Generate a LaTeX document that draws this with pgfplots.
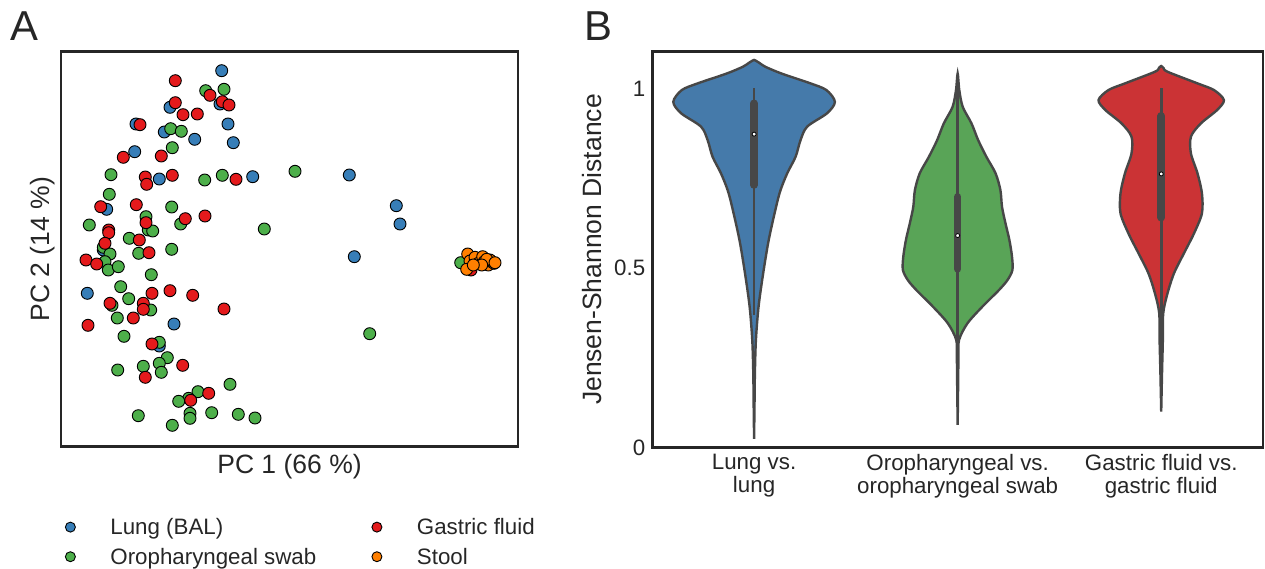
\documentclass[border=0pt]{standalone}
\usepackage{pgfplots}
\pgfplotsset{compat=1.18}
\usepackage{pgfplotstable}
\usepackage{fontspec}
\setmainfont{Liberation Sans}
\definecolor{lungC}{HTML}{377EB8}
\definecolor{oroC}{HTML}{4DAF4A}
\definecolor{gasC}{HTML}{E41A1C}
\definecolor{stoolC}{HTML}{FF7F00}
\definecolor{lungV}{HTML}{457AAA}
\definecolor{oroV}{HTML}{59A457}
\definecolor{gasV}{HTML}{CB3335}
\definecolor{vgray}{HTML}{474747}
\definecolor{txtC}{HTML}{262626}
\definecolor{axC}{HTML}{262626}

% violin outlines: y, half-width, side (+1 right, -1 left)
\pgfplotstableread{
y hw s
0.024 0 1
0.114 0.002 1
0.208 0.004 1
0.300 0.009 1
0.393 0.022 1
0.487 0.045 1
0.579 0.072 1
0.671 0.108 1
0.718 0.130 1
0.765 0.163 1
0.811 0.204 1
0.857 0.228 1
0.895 0.261 1
0.932 0.358 1
0.964 0.397 1
0.997 0.355 1
1.016 0.275 1
1.043 0.135 1
1.062 0.055 1
1.072 0.028 1
1.079 0.008 1
1.081 0 1
1.079 0.008 -1
1.072 0.028 -1
1.062 0.055 -1
1.043 0.135 -1
1.016 0.275 -1
0.997 0.355 -1
0.964 0.397 -1
0.932 0.358 -1
0.895 0.261 -1
0.857 0.228 -1
0.811 0.204 -1
0.765 0.163 -1
0.718 0.130 -1
0.671 0.108 -1
0.579 0.072 -1
0.487 0.045 -1
0.393 0.022 -1
0.300 0.009 -1
0.208 0.004 -1
0.114 0.002 -1
0.024 0 -1
}\lungtbl

\pgfplotstableread{
y hw s
0.063 0 1
0.160 0.002 1
0.253 0.004 1
0.300 0.007 1
0.346 0.048 1
0.393 0.122 1
0.439 0.203 1
0.467 0.245 1
0.495 0.269 1
0.532 0.267 1
0.579 0.254 1
0.625 0.235 1
0.671 0.218 1
0.718 0.210 1
0.765 0.186 1
0.811 0.141 1
0.857 0.101 1
0.904 0.068 1
0.950 0.025 1
0.997 0.008 1
1.043 0 1
0.997 0.008 -1
0.950 0.025 -1
0.904 0.068 -1
0.857 0.101 -1
0.811 0.141 -1
0.765 0.186 -1
0.718 0.210 -1
0.671 0.218 -1
0.625 0.235 -1
0.579 0.254 -1
0.532 0.267 -1
0.495 0.269 -1
0.467 0.245 -1
0.439 0.203 -1
0.393 0.122 -1
0.346 0.048 -1
0.300 0.007 -1
0.253 0.004 -1
0.160 0.002 -1
0.063 0 -1
}\orotbl

\pgfplotstableread{
y hw s
0.100 0 1
0.208 0.004 1
0.300 0.008 1
0.375 0.010 1
0.430 0.031 1
0.486 0.063 1
0.542 0.112 1
0.597 0.161 1
0.653 0.200 1
0.709 0.200 1
0.765 0.178 1
0.820 0.146 1
0.867 0.146 1
0.904 0.195 1
0.941 0.274 1
0.969 0.308 1
0.997 0.259 1
1.016 0.176 1
1.048 0.031 1
1.058 0.012 1
1.064 0 1
1.058 0.012 -1
1.048 0.031 -1
1.016 0.176 -1
0.997 0.259 -1
0.969 0.308 -1
0.941 0.274 -1
0.904 0.195 -1
0.867 0.146 -1
0.820 0.146 -1
0.765 0.178 -1
0.709 0.200 -1
0.653 0.200 -1
0.597 0.161 -1
0.542 0.112 -1
0.486 0.063 -1
0.430 0.031 -1
0.375 0.010 -1
0.300 0.008 -1
0.208 0.004 -1
0.100 0 -1
}\gastbl

\begin{document}
\begin{tikzpicture}
\useasboundingbox (0,0) rectangle (632.5bp,284.5bp);
\node[anchor=base west, inner sep=0pt, font=\fontsize{21}{21}\selectfont, text=txtC] at (5bp,264.15bp) {A};
\node[anchor=base west, inner sep=0pt, font=\fontsize{21}{21}\selectfont, text=txtC] at (292bp,264.15bp) {B};

\begin{axis}[
  at={(30.5bp,61.15bp)}, anchor=south west, scale only axis,
  width=228.5bp, height=197.5bp,
  xmin=61, xmax=518, ymin=51.7, ymax=446.7, y dir=reverse,
  xtick=\empty, ytick=\empty,
  axis line style={draw=axC, line width=1.25bp},
  xlabel={PC 1 (66 \%)}, ylabel={PC 2 (14 \%)},
  label style={font=\fontsize{13.3}{15}\selectfont, text=txtC},
  xlabel style={at={(axis description cs:0.5,-0.0673)}, anchor=base},
  ylabel style={at={(axis description cs:-0.0241,0.5)}, anchor=base},
  legend columns=2,
  legend style={at={(axis description cs:0.00875,-0.176)}, anchor=north west,
    draw=none, fill=none, inner sep=0pt, row sep=4.3bp,
    font=\fontsize{11.2}{13}\selectfont, text=txtC,
    cells={anchor=west},
    nodes={inner sep=0pt, text height=9bp, text depth=1.5bp},
    /tikz/every even column/.append style={column sep=27.8bp}},
  legend image code/.code={\path[draw=none, fill=none] (0bp,-2.5bp) rectangle (20bp,2.5bp); \draw[#1] plot coordinates {(0bp,0bp)};},
]
\addlegendimage{only marks, mark=*, mark size=2.5bp, mark options={fill=lungC, draw=black, line width=0.45bp}}
\addlegendentry{Lung (BAL)}
\addlegendimage{only marks, mark=*, mark size=2.5bp, mark options={fill=gasC, draw=black, line width=0.45bp}}
\addlegendentry{Gastric fluid}
\addlegendimage{only marks, mark=*, mark size=2.5bp, mark options={fill=oroC, draw=black, line width=0.45bp}}
\addlegendentry{Oropharyngeal swab}
\addlegendimage{only marks, mark=*, mark size=2.5bp, mark options={fill=stoolC, draw=black, line width=0.45bp}}
\addlegendentry{Stool}

\addplot[only marks, mark=*, mark size=3bp, mark options={fill=lungC, draw=black, line width=0.45bp}, forget plot] coordinates {
(221.7,70.7) (170,107.3) (220,104) (136,124) (164.3,132) (228,124) (194.7,139.3) (233.3,142.7) (134.7,151.7) (159.3,179) (252.7,176.7) (106.7,209.3) (103.3,250) (87.3,293.3) (174,324) (159.3,346) (349.3,175) (396.3,205.7) (400,224) (354.3,256.7)
};
\addplot[only marks, mark=*, mark size=3bp, mark options={fill=oroC, draw=black, line width=0.45bp}, forget plot] coordinates {
(205.7,90.7) (224,89.3) (170.7,128.7) (181.3,131.3) (172.3,147.7) (111,174.7) (204.7,180) (222.3,175.3) (109.3,194.3) (171.7,207) (146,216.7) (89.3,225) (180.7,224) (264.3,229) (148.3,230) (152.7,231) (129.3,238.3) (171.7,249.3) (103.3,247.3) (110,254) (138.7,253.3) (105,261.7) (108.3,270) (118.3,266.7) (151.3,274.7) (120.7,286.7) (128.7,298.7) (112,305.3) (150.7,310) (117.3,318) (124,336.3) (159.3,342.3) (167.3,357.7) (159.3,363.3) (161.3,372.3) (143.3,366.3) (117.7,370) (230,384.3) (198,391.7) (188.7,398.3) (178.7,401.3) (190,413.3) (190,418.3) (211.7,412.7) (238.3,414.3) (255,418) (138.3,415.7) (172.3,425.3) (295,171.3) (369.7,333.7) (460.7,262.7)
};
\addplot[only marks, mark=*, mark size=3bp, mark options={fill=gasC, draw=black, line width=0.45bp}, forget plot] coordinates {
(175.3,80.7) (210,95.3) (175.3,102.7) (222.3,101.7) (229,105) (183,114.7) (197.3,114) (140,124.7) (123.3,157.3) (161.3,156) (145.3,177) (146.7,184.3) (172.3,175.3) (236,179.3) (100.7,206.7) (136.3,204.7) (185.3,218.7) (205,216) (108.7,230) (108.7,232.7) (146,222.7) (139.3,240) (105,243.3) (149,252.7) (86,260) (96.7,264) (152,293.3) (170,290.7) (192.7,295.3) (110,303.3) (143.3,303.3) (143.3,309.3) (224,309) (133.3,318) (88,325.3) (152,344) (182.7,365.3) (145.3,377.3) (208.7,393.3) (190.7,400.3) (471,270)
};
\addplot[only marks, mark=*, mark size=3bp, mark options={fill=stoolC, draw=black, line width=0.45bp}, forget plot] coordinates {
(467.7,254) (470,261) (466.7,269.3) (475,257.3) (478.3,263.3) (482.7,256.7) (484.3,261.7) (488.3,265) (491.7,261.7) (494,263.3) (490,260) (486.7,259.3) (481.7,265) (473.3,265) (495,262.7)
};
\end{axis}

\begin{axis}[
  at={(326.15bp,60.8bp)}, anchor=south west, scale only axis,
  width=305.35bp, height=197.85bp,
  xmin=-0.5, xmax=2.5, ymin=0, ymax=1.104,
  xtick={0,1,2},
  xticklabels={{Lung vs.\\lung},{Oropharyngeal vs.\\oropharyngeal swab},{Gastric fluid vs.\\gastric fluid}},
  ytick={0,0.5,1}, yticklabels={0,0.5,1},
  major tick length=0pt,
  axis line style={draw=axC, line width=1.25bp},
  tick label style={font=\fontsize{11.2}{11.4}\selectfont, text=txtC},
  xticklabel style={align=center},
  ylabel={Jensen-Shannon Distance},
  label style={font=\fontsize{13.3}{15}\selectfont, text=txtC},
  ylabel style={at={(axis description cs:-0.084,0.5)}, anchor=base},
]
\addplot[fill=lungV, draw=vgray, line width=1.2bp, smooth, tension=0.5] table[x expr=\thisrow{s}*\thisrow{hw}, y=y] {\lungtbl};
\addplot[fill=oroV, draw=vgray, line width=1.2bp, smooth, tension=0.5] table[x expr=1+\thisrow{s}*\thisrow{hw}, y=y] {\orotbl};
\addplot[fill=gasV, draw=vgray, line width=1.2bp, smooth, tension=0.5] table[x expr=2+\thisrow{s}*\thisrow{hw}, y=y] {\gastbl};

\addplot[draw=vgray, line width=1.3bp] coordinates {(0,0.369) (0,1.003)};
\addplot[draw=vgray, line width=3.8bp, line cap=round] coordinates {(0,0.732) (0,0.960)};
\addplot[only marks, mark=*, mark size=1bp, mark options={fill=white, draw=none}] coordinates {(0,0.874)};

\addplot[draw=vgray, line width=1.3bp] coordinates {(1,0.15) (1,1.04)};
\addplot[draw=vgray, line width=3.8bp, line cap=round] coordinates {(1,0.498) (1,0.699)};
\addplot[only marks, mark=*, mark size=1bp, mark options={fill=white, draw=none}] coordinates {(1,0.591)};

\addplot[draw=vgray, line width=1.3bp] coordinates {(2,0.17) (2,1.002)};
\addplot[draw=vgray, line width=3.8bp, line cap=round] coordinates {(2,0.641) (2,0.925)};
\addplot[only marks, mark=*, mark size=1bp, mark options={fill=white, draw=none}] coordinates {(2,0.763)};
\end{axis}
\end{tikzpicture}
\end{document}
